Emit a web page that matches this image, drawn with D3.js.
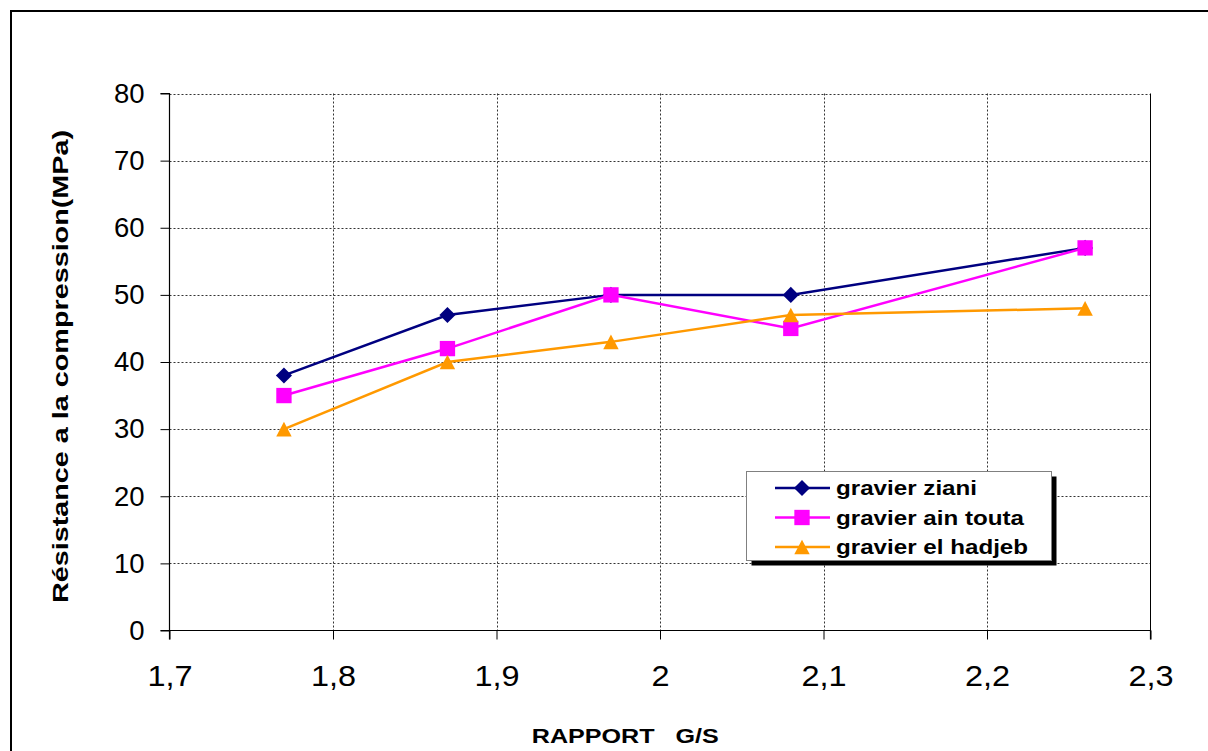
<!DOCTYPE html>
<html>
<head>
<meta charset="utf-8">
<script src="https://cdn.jsdelivr.net/npm/d3@7"></script>
<style>
  html, body { margin: 0; padding: 0; background: #fff; }
  svg { display: block; font-family: Arial, "Liberation Sans", sans-serif; }
</style>
</head>
<body>
<svg id="chart" width="1208" height="751"></svg>
<script>
// G/S ratio values measured for each mix
const ratios = [1.77, 1.87, 1.97, 2.08, 2.26];

// Compressive strength (MPa) per gravel source
const zianiValues = [38, 47, 50, 50, 57];
const ainToutaValues = [35, 42, 50, 45, 57];
const elHadjebValues = [30, 40, 43, 47, 48];

const seriesNames = ["gravier ziani", "gravier ain touta", "gravier el hadjeb"];
const seriesColors = ["#000080", "#FF00FF", "#FF9900"];

const xTicks = [1.7, 1.8, 1.9, 2.0, 2.1, 2.2, 2.3];
const yTicks = [0, 10, 20, 30, 40, 50, 60, 70, 80];

const xTitle = "RAPPORT\u00A0\u00A0\u00A0G/S";
const yTitle = "Résistance a la compression(MPa)";

// triangle marker centred on its bounding box
const boxTriangle = {
  draw(ctx, size) {
    const h = Math.sqrt(size) * 1.2;
    const w = h * 1.05;
    ctx.moveTo(0, -h / 2);
    ctx.lineTo(w / 2, h / 2);
    ctx.lineTo(-w / 2, h / 2);
    ctx.closePath();
  }
};

const markerTypes = [
  { type: d3.symbolDiamond2, size: 165 },
  { type: d3.symbolSquare, size: 235 },
  { type: boxTriangle, size: 150 }
];

const series = [zianiValues, ainToutaValues, elHadjebValues].map((vals, i) => ({
  name: seriesNames[i],
  color: seriesColors[i],
  marker: markerTypes[i],
  points: ratios.map((r, j) => ({ x: r, y: vals[j] }))
}));

const svg = d3.select("#chart");

// outer frame
svg.append("path")
  .attr("d", "M11,760 L11,11 L1220,11")
  .attr("fill", "none")
  .attr("stroke", "#000")
  .attr("stroke-width", 2);

const plot = { left: 169.5, right: 1150.5, top: 93.5, bottom: 630.5 };

const x = d3.scaleLinear().domain([1.7, 2.3]).range([plot.left, plot.right]);
const y = d3.scaleLinear().domain([0, 80]).range([plot.bottom, plot.top]);

const fmt = d => d3.format(".1f")(d).replace(".", ",").replace(/,0$/, "");

// dotted grid
const grid = svg.append("g").attr("stroke", "#333").attr("stroke-width", 1)
  .attr("stroke-dasharray", "2,2");
grid.selectAll("line.h").data(yTicks.filter(v => v > 0)).join("line")
  .attr("x1", plot.left).attr("x2", plot.right)
  .attr("y1", d => Math.round(y(d)) + 0.5).attr("y2", d => Math.round(y(d)) + 0.5);
grid.selectAll("line.v").data(xTicks.filter(v => v > 1.7 && v < 2.3)).join("line")
  .attr("y1", plot.top).attr("y2", plot.bottom)
  .attr("x1", d => Math.round(x(d)) + 0.5).attr("x2", d => Math.round(x(d)) + 0.5);

// right edge of plot area
svg.append("line")
  .attr("x1", plot.right).attr("x2", plot.right)
  .attr("y1", plot.top).attr("y2", plot.bottom)
  .attr("stroke", "#000").attr("stroke-width", 1);

// axes
const yAxis = d3.axisLeft(y).tickValues(yTicks).tickSize(9).tickPadding(16)
  .tickFormat(d => d);
const gy = svg.append("g").attr("transform", `translate(${plot.left},0)`).call(yAxis);

const xAxis = d3.axisBottom(x).tickValues(xTicks).tickSize(9).tickPadding(26)
  .tickFormat(fmt);
const gx = svg.append("g").attr("transform", `translate(0,${plot.bottom})`).call(xAxis);

[gx, gy].forEach(g => {
  g.select(".domain").attr("stroke", "#000").attr("stroke-width", 1.2);
  g.selectAll(".tick line").attr("stroke", "#000").attr("stroke-width", 1);
  g.selectAll(".tick text")
    .attr("font-family", "Arial, 'Liberation Sans', sans-serif")
    .attr("fill", "#000");
});
gy.selectAll(".tick text").attr("font-size", 27.5);
gx.selectAll(".tick text").attr("font-size", 29.5).attr("transform", "scale(1.1,1)");
gy.select(".domain").attr("d", `M-9,${plot.top}H0V${plot.bottom}H-9`);
gx.select(".domain").attr("d", `M${plot.left},9V0H${plot.right}V9`);

// axis titles
svg.append("text")
  .attr("x", 625.3).attr("y", 742.5)
  .attr("text-anchor", "middle")
  .attr("font-weight", "bold").attr("font-size", 21)
  .attr("textLength", 187).attr("lengthAdjust", "spacingAndGlyphs")
  .text(xTitle);

svg.append("text")
  .attr("transform", "translate(68,366.5) rotate(-90)")
  .attr("text-anchor", "middle")
  .attr("font-weight", "bold").attr("font-size", 22)
  .attr("textLength", 473).attr("lengthAdjust", "spacingAndGlyphs")
  .text(yTitle);

// series lines and markers
const line = d3.line().x(d => x(d.x)).y(d => y(d.y));
series.forEach(s => {
  const g = svg.append("g");
  g.append("path").datum(s.points)
    .attr("d", line)
    .attr("fill", "none")
    .attr("stroke", s.color)
    .attr("stroke-width", 2.5);
  g.selectAll("path.m").data(s.points).join("path")
    .attr("class", "m")
    .attr("transform", d => `translate(${x(d.x)},${y(d.y)})`)
    .attr("d", d3.symbol(s.marker.type, s.marker.size))
    .attr("fill", s.color);
});

// legend
const lg = { x: 746.5, y: 471.5, w: 305, h: 89 };
svg.append("rect")
  .attr("x", lg.x + 5).attr("y", lg.y + 5).attr("width", lg.w).attr("height", lg.h)
  .attr("fill", "#000");
svg.append("rect")
  .attr("x", lg.x).attr("y", lg.y).attr("width", lg.w).attr("height", lg.h)
  .attr("fill", "#fff").attr("stroke", "#808080").attr("stroke-width", 1);

series.forEach((s, i) => {
  const cy = 488 + i * 29.5;
  svg.append("line")
    .attr("x1", 775).attr("x2", 830).attr("y1", cy).attr("y2", cy)
    .attr("stroke", s.color).attr("stroke-width", 2.5);
  svg.append("path")
    .attr("transform", `translate(802,${cy})`)
    .attr("d", d3.symbol(s.marker.type, s.marker.size))
    .attr("fill", s.color);
  svg.append("text")
    .attr("transform", `translate(836,${cy + 7}) scale(1.24,1)`)
    .attr("font-weight", "bold").attr("font-size", 19.5)
    .text(s.name);
});
</script>
</body>
</html>
